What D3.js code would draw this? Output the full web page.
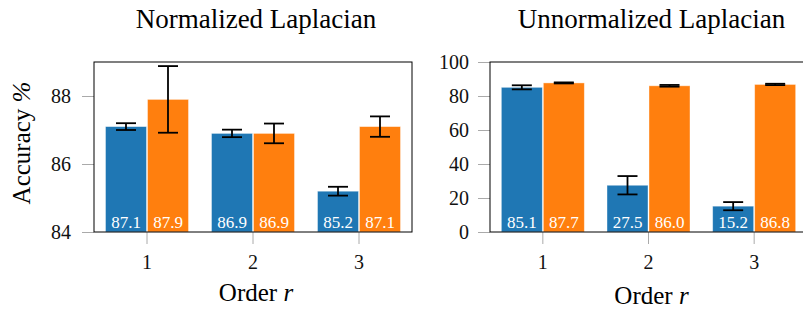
<!DOCTYPE html>
<html>
<head>
<meta charset="utf-8">
<script src="https://cdn.jsdelivr.net/npm/d3@7"></script>
<style>
    body { margin: 0; background: #fff; }
</style>
</head>
<body>
<div id="chart"></div>
<script>
// data
const orders = ["1", "2", "3"];

const normBlue = [87.1, 86.9, 85.2];
const normBlueErr = [0.1, 0.11, 0.13];
const normOrange = [87.9, 86.9, 87.1];
const normOrangeErr = [0.98, 0.29, 0.3];

const unnormBlue = [85.1, 27.5, 15.2];
const unnormBlueErr = [1.2, 5.4, 2.4];
const unnormOrange = [87.7, 86.0, 86.8];
const unnormOrangeErr = [0.3, 0.5, 0.4];

const normTicks = [84, 86, 88];
const unnormTicks = [0, 20, 40, 60, 80, 100];

const width = 803, height = 311;
const plotTop = 62, plotBottom = 232;
const barW = 41;
const blue = "#1f77b4", orange = "#ff7f0e";
const serif = "Liberation Serif";

const svg = d3.select("#chart").append("svg")
    .attr("width", width)
    .attr("height", height)
    .attr("font-family", serif);

const panels = [
    { title: "Normalized Laplacian", x0: 94, x1: 412, domain: [84, 89], ticks: normTicks, yPad: 11,
      series: [[normBlue, normBlueErr, blue], [normOrange, normOrangeErr, orange]], xlabY: 301 },
    { title: "Unnormalized Laplacian", x0: 490, x1: 807, domain: [0, 100], ticks: unnormTicks, yPad: 9,
      series: [[unnormBlue, unnormBlueErr, blue], [unnormOrange, unnormOrangeErr, orange]], xlabY: 304 }
];

panels.forEach((p) => {
    const x = d3.scaleBand().domain(orders).range([p.x0, p.x1]);
    const y = d3.scaleLinear().domain(p.domain).range([plotBottom, plotTop]);
    const g = svg.append("g");

    // y ticks (gray marks outside the frame)
    const yAxis = g.append("g")
        .attr("transform", "translate(" + p.x0 + ",0)")
        .call(d3.axisLeft(y).tickValues(p.ticks).tickFormat(d3.format("d")).tickSize(12).tickPadding(p.yPad))
        .attr("font-family", serif)
        .attr("font-size", 20);
    yAxis.select(".domain").remove();
    yAxis.selectAll(".tick line").attr("stroke", "#aaa");
    yAxis.selectAll(".tick text").attr("fill", "#111");

    // x ticks
    const xAxis = g.append("g")
        .attr("transform", "translate(0," + plotBottom + ")")
        .call(d3.axisBottom(x).tickSize(12).tickPadding(11))
        .attr("font-family", serif)
        .attr("font-size", 20);
    xAxis.select(".domain").remove();
    xAxis.selectAll(".tick line").attr("stroke", "#aaa");
    xAxis.selectAll(".tick text").attr("fill", "#111");

    // bars
    p.series.forEach((s, si) => {
        const vals = s[0], errs = s[1], color = s[2];
        const bx = (i) => x(orders[i]) + x.bandwidth() / 2 + (si === 0 ? -barW - 0.5 : 0.5);
        const bars = g.append("g");
        bars.selectAll("rect")
            .data(vals)
            .enter()
            .append("rect")
            .attr("x", (d, i) => bx(i))
            .attr("y", (d) => y(d))
            .attr("width", barW)
            .attr("height", (d) => plotBottom - y(d))
            .attr("fill", color)
            .attr("stroke", "#fff")
            .attr("stroke-opacity", 0.5)
            .attr("stroke-width", 0.8);

        bars.selectAll("text")
            .data(vals)
            .enter()
            .append("text")
            .attr("x", (d, i) => bx(i) + barW / 2)
            .attr("y", plotBottom - 4)
            .attr("text-anchor", "middle")
            .attr("fill", "#fff")
            .attr("font-size", 17)
            .text((d) => d.toFixed(1));

        // error bars
        const eb = g.append("g").attr("stroke", "#000").attr("stroke-width", 1.8);
        vals.forEach((d, i) => {
            const cx = bx(i) + barW / 2;
            const hi = y(d + errs[i]), lo = y(d - errs[i]);
            eb.append("line").attr("x1", cx).attr("x2", cx).attr("y1", hi).attr("y2", lo);
            eb.append("line").attr("x1", cx - 10).attr("x2", cx + 10).attr("y1", hi).attr("y2", hi);
            eb.append("line").attr("x1", cx - 10).attr("x2", cx + 10).attr("y1", lo).attr("y2", lo);
        });
    });

    // frame
    g.append("rect")
        .attr("x", p.x0)
        .attr("y", plotTop)
        .attr("width", p.x1 - p.x0)
        .attr("height", plotBottom - plotTop)
        .attr("fill", "none")
        .attr("stroke", "#000")
        .attr("stroke-width", 1);

    g.append("text")
        .attr("x", (p.x0 + p.x1) / 2 + 3)
        .attr("y", 28)
        .attr("text-anchor", "middle")
        .attr("fill", "#000")
        .attr("font-size", 27)
        .text(p.title);

    const xl = g.append("text")
        .attr("x", (p.x0 + p.x1) / 2 + 3)
        .attr("y", p.xlabY)
        .attr("text-anchor", "middle")
        .attr("fill", "#000")
        .attr("font-size", 25);
    xl.append("tspan").text("Order ");
    xl.append("tspan").attr("font-style", "italic").text("r");
});

// y label
const yl = svg.append("text")
    .attr("transform", "translate(30,143) rotate(-90)")
    .attr("text-anchor", "middle")
    .attr("fill", "#000")
    .attr("font-size", 25);
yl.append("tspan").text("Accuracy ");
yl.append("tspan").attr("font-style", "italic").text("%");
</script>
</body>
</html>
